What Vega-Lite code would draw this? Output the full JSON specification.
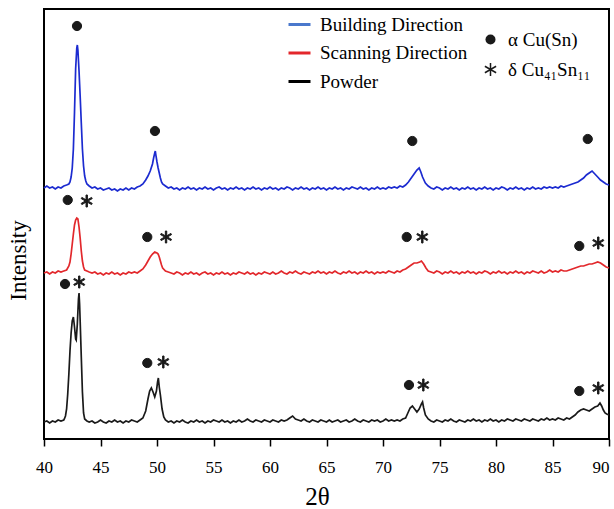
{
  "$schema": "https://vega.github.io/schema/vega-lite/v6.json",
  "width": 565,
  "height": 430,
  "autosize": {"type": "none"},
  "padding": {"left": 44, "top": 9, "right": 5, "bottom": 70},
  "background": "white",
  "config": {"view": {"stroke": "black", "strokeWidth": 2}, "font": "Liberation Serif"},
  "datasets": {
    "blue": [
      {"x":40,"y":251},{"x":40.25,"y":253},{"x":40.5,"y":251},{"x":40.75,"y":252},{"x":41,"y":250},{"x":41.25,"y":252},{"x":41.5,"y":251},{"x":41.75,"y":253},{"x":42,"y":254},{"x":42.2,"y":255},{"x":42.3,"y":257},{"x":42.4,"y":262},{"x":42.5,"y":271},{"x":42.6,"y":290},{"x":42.7,"y":327},{"x":42.8,"y":370},{"x":42.9,"y":391},{"x":42.95,"y":394},{"x":43,"y":389},{"x":43.1,"y":368},{"x":43.2,"y":343},{"x":43.3,"y":316},{"x":43.4,"y":290},{"x":43.5,"y":273},{"x":43.6,"y":263},{"x":43.7,"y":258},{"x":43.8,"y":255},{"x":44,"y":253},
      {"x":44.25,"y":251},{"x":44.5,"y":252},{"x":44.75,"y":250},{"x":45,"y":251},{"x":45.25,"y":249},{"x":45.5,"y":250},{"x":45.75,"y":251},{"x":46,"y":249},{"x":46.25,"y":250},{"x":46.5,"y":248},{"x":46.75,"y":250},{"x":47,"y":249},{"x":47.25,"y":251},{"x":47.5,"y":249},{"x":47.75,"y":251},{"x":48,"y":250},{"x":48.25,"y":252},{"x":48.5,"y":253},{"x":48.75,"y":255},{"x":49,"y":259},{"x":49.2,"y":263},{"x":49.4,"y":268},{"x":49.6,"y":275},{"x":49.7,"y":281},{"x":49.8,"y":286},{"x":49.85,"y":288},{"x":49.9,"y":284},{"x":50,"y":277},{"x":50.1,"y":271},{"x":50.2,"y":266},{"x":50.3,"y":261},{"x":50.4,"y":257},{"x":50.5,"y":255},{"x":50.75,"y":253},{"x":51,"y":251},
      {"x":51.25,"y":252},{"x":51.5,"y":250},{"x":51.75,"y":251},{"x":52,"y":249},{"x":52.25,"y":251},{"x":52.5,"y":250},{"x":52.75,"y":252},{"x":53,"y":250},{"x":53.25,"y":251},{"x":53.5,"y":249},{"x":53.75,"y":251},{"x":54,"y":250},{"x":54.25,"y":252},{"x":54.5,"y":250},{"x":54.75,"y":251},{"x":55,"y":249},{"x":55.25,"y":251},{"x":55.5,"y":252},{"x":55.75,"y":250},{"x":56,"y":251},{"x":56.25,"y":249},{"x":56.5,"y":251},{"x":56.75,"y":250},{"x":57,"y":252},{"x":57.25,"y":250},{"x":57.5,"y":251},{"x":57.75,"y":249},{"x":58,"y":251},{"x":58.25,"y":250},{"x":58.5,"y":252},{"x":58.75,"y":250},{"x":59,"y":251},{"x":59.25,"y":249},{"x":59.5,"y":251},{"x":59.75,"y":250},{"x":60,"y":252},{"x":60.25,"y":250},{"x":60.5,"y":251},{"x":60.75,"y":249},{"x":61,"y":251},{"x":61.25,"y":250},{"x":61.5,"y":252},{"x":61.75,"y":251},{"x":62,"y":249},{"x":62.25,"y":251},{"x":62.5,"y":250},{"x":62.75,"y":252},{"x":63,"y":250},{"x":63.25,"y":251},{"x":63.5,"y":249},{"x":63.75,"y":251},{"x":64,"y":250},{"x":64.25,"y":252},{"x":64.5,"y":250},{"x":64.75,"y":251},{"x":65,"y":249},{"x":65.25,"y":251},{"x":65.5,"y":250},{"x":65.75,"y":252},{"x":66,"y":250},{"x":66.25,"y":251},{"x":66.5,"y":249},{"x":66.75,"y":251},{"x":67,"y":250},{"x":67.25,"y":252},{"x":67.5,"y":251},{"x":67.75,"y":250},{"x":68,"y":252},{"x":68.25,"y":250},{"x":68.5,"y":251},{"x":68.75,"y":249},{"x":69,"y":251},{"x":69.25,"y":250},{"x":69.5,"y":252},{"x":69.75,"y":250},{"x":70,"y":251},{"x":70.25,"y":250},{"x":70.5,"y":252},{"x":70.75,"y":251},{"x":71,"y":252},{"x":71.25,"y":251},{"x":71.5,"y":253},{"x":71.75,"y":252},
      {"x":72,"y":254},{"x":72.25,"y":257},{"x":72.5,"y":261},{"x":72.75,"y":265},{"x":73,"y":269},{"x":73.2,"y":271},{"x":73.35,"y":267},{"x":73.5,"y":262},{"x":73.75,"y":256},{"x":74,"y":253},{"x":74.25,"y":251},
      {"x":74.5,"y":250},{"x":74.75,"y":252},{"x":75,"y":251},{"x":75.25,"y":249},{"x":75.5,"y":251},{"x":75.75,"y":250},{"x":76,"y":252},{"x":76.25,"y":250},{"x":76.5,"y":251},{"x":76.75,"y":249},{"x":77,"y":251},{"x":77.25,"y":250},{"x":77.5,"y":252},{"x":77.75,"y":250},{"x":78,"y":251},{"x":78.25,"y":249},{"x":78.5,"y":251},{"x":78.75,"y":250},{"x":79,"y":252},{"x":79.25,"y":250},{"x":79.5,"y":251},{"x":79.75,"y":249},{"x":80,"y":251},{"x":80.25,"y":250},{"x":80.5,"y":252},{"x":80.75,"y":251},{"x":81,"y":249},{"x":81.25,"y":251},{"x":81.5,"y":250},{"x":81.75,"y":252},{"x":82,"y":250},{"x":82.25,"y":251},{"x":82.5,"y":249},{"x":82.75,"y":251},{"x":83,"y":250},{"x":83.25,"y":252},{"x":83.5,"y":250},{"x":83.75,"y":251},{"x":84,"y":250},{"x":84.25,"y":252},{"x":84.5,"y":251},{"x":84.75,"y":252},{"x":85,"y":251},{"x":85.25,"y":252},{"x":85.5,"y":251},{"x":85.75,"y":253},{"x":86,"y":252},{"x":86.25,"y":253},{"x":86.5,"y":254},{"x":86.75,"y":255},
      {"x":87,"y":256},{"x":87.25,"y":257},{"x":87.5,"y":259},{"x":87.75,"y":261},{"x":88,"y":264},{"x":88.25,"y":266},{"x":88.5,"y":268},{"x":88.75,"y":265},{"x":89,"y":262},{"x":89.25,"y":259},{"x":89.5,"y":257},{"x":89.75,"y":255},{"x":90,"y":254}
    ],
    "red": [
      {"x":40,"y":166},{"x":40.25,"y":167},{"x":40.5,"y":165},{"x":40.75,"y":167},{"x":41,"y":166},{"x":41.25,"y":168},{"x":41.5,"y":167},{"x":41.75,"y":168},{"x":42,"y":169},{"x":42.2,"y":173},{"x":42.3,"y":177},{"x":42.4,"y":185},{"x":42.5,"y":195},{"x":42.6,"y":205},{"x":42.7,"y":214},{"x":42.8,"y":219},{"x":42.9,"y":221},{"x":43,"y":220},{"x":43.1,"y":212},{"x":43.2,"y":201},{"x":43.3,"y":188},{"x":43.4,"y":178},{"x":43.5,"y":172},{"x":43.6,"y":169},{"x":43.8,"y":168},{"x":44,"y":167},
      {"x":44.25,"y":166},{"x":44.5,"y":167},{"x":44.75,"y":165},{"x":45,"y":166},{"x":45.25,"y":164},{"x":45.5,"y":166},{"x":45.75,"y":165},{"x":46,"y":167},{"x":46.25,"y":165},{"x":46.5,"y":166},{"x":46.75,"y":164},{"x":47,"y":166},{"x":47.25,"y":165},{"x":47.5,"y":167},{"x":47.75,"y":166},{"x":48,"y":167},{"x":48.25,"y":166},{"x":48.5,"y":168},{"x":48.75,"y":170},
      {"x":49,"y":174},{"x":49.2,"y":178},{"x":49.4,"y":182},{"x":49.6,"y":185},{"x":49.8,"y":187},{"x":50,"y":186},{"x":50.1,"y":185},{"x":50.2,"y":182},{"x":50.3,"y":178},{"x":50.4,"y":174},{"x":50.5,"y":171},{"x":50.75,"y":168},{"x":51,"y":167},
      {"x":51.25,"y":166},{"x":51.5,"y":165},{"x":51.75,"y":167},{"x":52,"y":166},{"x":52.25,"y":164},{"x":52.5,"y":166},{"x":52.75,"y":165},{"x":53,"y":167},{"x":53.25,"y":165},{"x":53.5,"y":166},{"x":53.75,"y":164},{"x":54,"y":166},{"x":54.25,"y":167},{"x":54.5,"y":165},{"x":54.75,"y":166},{"x":55,"y":164},{"x":55.25,"y":166},{"x":55.5,"y":165},{"x":55.75,"y":167},{"x":56,"y":165},{"x":56.25,"y":166},{"x":56.5,"y":164},{"x":56.75,"y":166},{"x":57,"y":165},{"x":57.25,"y":167},{"x":57.5,"y":166},{"x":57.75,"y":165},{"x":58,"y":167},{"x":58.25,"y":165},{"x":58.5,"y":166},{"x":58.75,"y":164},{"x":59,"y":166},{"x":59.25,"y":165},{"x":59.5,"y":167},{"x":59.75,"y":166},{"x":60,"y":165},{"x":60.25,"y":167},{"x":60.5,"y":165},{"x":60.75,"y":166},{"x":61,"y":168},{"x":61.25,"y":166},{"x":61.5,"y":165},{"x":61.75,"y":167},{"x":62,"y":166},{"x":62.25,"y":168},{"x":62.5,"y":166},{"x":62.75,"y":165},{"x":63,"y":167},{"x":63.25,"y":166},{"x":63.5,"y":165},{"x":63.75,"y":167},{"x":64,"y":166},{"x":64.25,"y":168},{"x":64.5,"y":166},{"x":64.75,"y":167},{"x":65,"y":165},{"x":65.25,"y":167},{"x":65.5,"y":166},{"x":65.75,"y":168},{"x":66,"y":166},{"x":66.25,"y":165},{"x":66.5,"y":167},{"x":66.75,"y":166},{"x":67,"y":168},{"x":67.25,"y":166},{"x":67.5,"y":167},{"x":67.75,"y":165},{"x":68,"y":167},{"x":68.25,"y":166},{"x":68.5,"y":168},{"x":68.75,"y":166},{"x":69,"y":167},{"x":69.25,"y":165},{"x":69.5,"y":167},{"x":69.75,"y":166},{"x":70,"y":167},{"x":70.25,"y":166},{"x":70.5,"y":168},{"x":70.75,"y":167},{"x":71,"y":166},{"x":71.25,"y":168},{"x":71.5,"y":167},{"x":71.75,"y":169},
      {"x":72,"y":170},{"x":72.25,"y":172},{"x":72.5,"y":174},{"x":72.75,"y":176},{"x":73,"y":176},{"x":73.25,"y":177},{"x":73.4,"y":178},{"x":73.6,"y":175},{"x":73.8,"y":171},{"x":74,"y":168},{"x":74.25,"y":167},
      {"x":74.5,"y":166},{"x":74.75,"y":168},{"x":75,"y":167},{"x":75.25,"y":165},{"x":75.5,"y":167},{"x":75.75,"y":166},{"x":76,"y":168},{"x":76.25,"y":166},{"x":76.5,"y":167},{"x":76.75,"y":165},{"x":77,"y":167},{"x":77.25,"y":166},{"x":77.5,"y":168},{"x":77.75,"y":166},{"x":78,"y":167},{"x":78.25,"y":165},{"x":78.5,"y":167},{"x":78.75,"y":166},{"x":79,"y":168},{"x":79.25,"y":167},{"x":79.5,"y":165},{"x":79.75,"y":167},{"x":80,"y":166},{"x":80.25,"y":168},{"x":80.5,"y":166},{"x":80.75,"y":167},{"x":81,"y":165},{"x":81.25,"y":167},{"x":81.5,"y":166},{"x":81.75,"y":168},{"x":82,"y":166},{"x":82.25,"y":167},{"x":82.5,"y":165},{"x":82.75,"y":167},{"x":83,"y":166},{"x":83.25,"y":168},{"x":83.5,"y":167},{"x":83.75,"y":166},{"x":84,"y":168},{"x":84.25,"y":166},{"x":84.5,"y":167},{"x":84.75,"y":169},{"x":85,"y":167},{"x":85.25,"y":168},{"x":85.5,"y":167},{"x":85.75,"y":169},{"x":86,"y":168},
      {"x":86.25,"y":168},{"x":86.5,"y":169},{"x":86.75,"y":170},{"x":87,"y":171},{"x":87.25,"y":172},{"x":87.5,"y":173},{"x":87.75,"y":173},{"x":88,"y":174},{"x":88.25,"y":175},{"x":88.5,"y":175},{"x":88.75,"y":176},{"x":89,"y":177},{"x":89.25,"y":176},{"x":89.5,"y":174},{"x":89.75,"y":172},{"x":90,"y":171}
    ],
    "black": [
      {"x":40,"y":17},{"x":40.25,"y":18},{"x":40.5,"y":16},{"x":40.75,"y":18},{"x":41,"y":17},{"x":41.25,"y":19},{"x":41.5,"y":18},{"x":41.75,"y":19},{"x":41.8,"y":20},{"x":41.9,"y":23},{"x":42,"y":30},{"x":42.1,"y":45},{"x":42.2,"y":65},{"x":42.3,"y":88},{"x":42.4,"y":106},{"x":42.5,"y":118},{"x":42.6,"y":122},{"x":42.7,"y":112},{"x":42.8,"y":100},{"x":42.85,"y":99},{"x":42.95,"y":115},{"x":43.05,"y":140},{"x":43.1,"y":146},{"x":43.15,"y":135},{"x":43.2,"y":118},{"x":43.3,"y":82},{"x":43.4,"y":47},{"x":43.5,"y":26},{"x":43.6,"y":20},{"x":43.8,"y":18},{"x":44,"y":17},
      {"x":44.25,"y":18},{"x":44.5,"y":16},{"x":44.75,"y":17},{"x":45,"y":19},{"x":45.25,"y":17},{"x":45.5,"y":16},{"x":45.75,"y":18},{"x":46,"y":17},{"x":46.25,"y":19},{"x":46.5,"y":17},{"x":46.75,"y":18},{"x":47,"y":16},{"x":47.25,"y":18},{"x":47.5,"y":17},{"x":47.75,"y":19},{"x":48,"y":18},{"x":48.25,"y":17},{"x":48.5,"y":19},{"x":48.75,"y":21},
      {"x":49,"y":28},{"x":49.2,"y":40},{"x":49.35,"y":48},{"x":49.5,"y":51},{"x":49.65,"y":47},{"x":49.8,"y":42},{"x":49.95,"y":48},{"x":50.05,"y":57},{"x":50.12,"y":61},{"x":50.2,"y":52},{"x":50.3,"y":44},{"x":50.45,"y":30},{"x":50.6,"y":22},{"x":50.75,"y":19},{"x":51,"y":17},
      {"x":51.25,"y":18},{"x":51.5,"y":16},{"x":51.75,"y":18},{"x":52,"y":17},{"x":52.25,"y":19},{"x":52.5,"y":17},{"x":52.75,"y":16},{"x":53,"y":18},{"x":53.25,"y":17},{"x":53.5,"y":19},{"x":53.75,"y":17},{"x":54,"y":18},{"x":54.25,"y":16},{"x":54.5,"y":18},{"x":54.75,"y":17},{"x":55,"y":19},{"x":55.25,"y":18},{"x":55.5,"y":17},{"x":55.75,"y":19},{"x":56,"y":17},{"x":56.25,"y":18},{"x":56.5,"y":16},{"x":56.75,"y":18},{"x":57,"y":17},{"x":57.25,"y":19},{"x":57.5,"y":17},{"x":57.75,"y":18},{"x":58,"y":20},{"x":58.25,"y":18},{"x":58.5,"y":17},{"x":58.75,"y":19},{"x":59,"y":18},{"x":59.25,"y":17},{"x":59.5,"y":19},{"x":59.75,"y":18},{"x":60,"y":17},{"x":60.25,"y":19},{"x":60.5,"y":18},{"x":60.75,"y":17},{"x":61,"y":19},{"x":61.25,"y":18},{"x":61.5,"y":19},{"x":61.75,"y":21},{"x":62,"y":23},{"x":62.25,"y":20},{"x":62.5,"y":19},{"x":62.75,"y":18},{"x":63,"y":20},{"x":63.25,"y":18},{"x":63.5,"y":17},{"x":63.75,"y":19},{"x":64,"y":18},{"x":64.25,"y":17},{"x":64.5,"y":19},{"x":64.75,"y":18},{"x":65,"y":17},{"x":65.25,"y":19},{"x":65.5,"y":17},{"x":65.75,"y":18},{"x":66,"y":19},{"x":66.25,"y":17},{"x":66.5,"y":18},{"x":66.75,"y":19},{"x":67,"y":17},{"x":67.25,"y":18},{"x":67.5,"y":20},{"x":67.75,"y":18},{"x":68,"y":17},{"x":68.25,"y":19},{"x":68.5,"y":18},{"x":68.75,"y":17},{"x":69,"y":19},{"x":69.25,"y":18},{"x":69.5,"y":19},{"x":69.75,"y":17},{"x":70,"y":18},{"x":70.25,"y":20},{"x":70.5,"y":18},{"x":70.75,"y":19},{"x":71,"y":18},{"x":71.25,"y":19},{"x":71.5,"y":18},{"x":71.75,"y":20},
      {"x":72,"y":21},{"x":72.2,"y":26},{"x":72.4,"y":31},{"x":72.6,"y":33},{"x":72.8,"y":30},{"x":73,"y":27},{"x":73.2,"y":30},{"x":73.4,"y":35},{"x":73.5,"y":37},{"x":73.6,"y":31},{"x":73.75,"y":24},{"x":74,"y":20},{"x":74.25,"y":18},
      {"x":74.5,"y":17},{"x":74.75,"y":19},{"x":75,"y":18},{"x":75.25,"y":17},{"x":75.5,"y":19},{"x":75.75,"y":18},{"x":76,"y":20},{"x":76.25,"y":18},{"x":76.5,"y":17},{"x":76.75,"y":19},{"x":77,"y":18},{"x":77.25,"y":17},{"x":77.5,"y":19},{"x":77.75,"y":18},{"x":78,"y":20},{"x":78.25,"y":18},{"x":78.5,"y":19},{"x":78.75,"y":17},{"x":79,"y":19},{"x":79.25,"y":18},{"x":79.5,"y":20},{"x":79.75,"y":18},{"x":80,"y":19},{"x":80.25,"y":17},{"x":80.5,"y":19},{"x":80.75,"y":18},{"x":81,"y":20},{"x":81.25,"y":19},{"x":81.5,"y":18},{"x":81.75,"y":20},{"x":82,"y":19},{"x":82.25,"y":18},{"x":82.5,"y":20},{"x":82.75,"y":19},{"x":83,"y":18},{"x":83.25,"y":20},{"x":83.5,"y":19},{"x":83.75,"y":18},{"x":84,"y":20},{"x":84.25,"y":19},{"x":84.5,"y":21},{"x":84.75,"y":19},{"x":85,"y":20},{"x":85.25,"y":19},{"x":85.5,"y":21},{"x":85.75,"y":20},{"x":86,"y":19},{"x":86.25,"y":21},{"x":86.5,"y":20},{"x":86.75,"y":22},
      {"x":87,"y":24},{"x":87.25,"y":27},{"x":87.5,"y":29},{"x":87.75,"y":30},{"x":88,"y":29},{"x":88.25,"y":28},{"x":88.5,"y":30},{"x":88.75,"y":32},{"x":89,"y":33},{"x":89.2,"y":36},{"x":89.35,"y":33},{"x":89.5,"y":29},{"x":89.65,"y":26},{"x":89.8,"y":25},{"x":90,"y":24}
    ],
    "phases": [
      {"x":42.92,"y":413,"p":"α Cu(Sn)"},{"x":49.82,"y":308,"p":"α Cu(Sn)"},{"x":72.59,"y":298,"p":"α Cu(Sn)"},{"x":88.12,"y":300,"p":"α Cu(Sn)"},
      {"x":42.1,"y":239,"p":"α Cu(Sn)"},{"x":49.14,"y":202,"p":"α Cu(Sn)"},{"x":72.1,"y":202,"p":"α Cu(Sn)"},{"x":87.37,"y":193,"p":"α Cu(Sn)"},
      {"x":43.78,"y":238,"p":"δ Cu₄₁Sn₁₁"},{"x":50.8,"y":202,"p":"δ Cu₄₁Sn₁₁"},{"x":73.48,"y":202,"p":"δ Cu₄₁Sn₁₁"},{"x":89.05,"y":196,"p":"δ Cu₄₁Sn₁₁"},
      {"x":41.86,"y":155,"p":"α Cu(Sn)"},{"x":49.14,"y":76,"p":"α Cu(Sn)"},{"x":72.3,"y":54,"p":"α Cu(Sn)"},{"x":87.37,"y":48,"p":"α Cu(Sn)"},
      {"x":43.12,"y":157,"p":"δ Cu₄₁Sn₁₁"},{"x":50.56,"y":77,"p":"δ Cu₄₁Sn₁₁"},{"x":73.57,"y":54,"p":"δ Cu₄₁Sn₁₁"},{"x":89.05,"y":51,"p":"δ Cu₄₁Sn₁₁"}
    ]
  },
  "layer": [
    {
      "data": {"name": "blue"},
      "mark": {"type": "line", "color": "#1c2bd0", "strokeWidth": 1.7},
      "encoding": {
        "x": {"field": "x", "type": "quantitative", "scale": {"domain": [40, 90], "nice": false, "zero": false},
          "axis": {"orient": "bottom", "values": [40,42.5,45,47.5,50,52.5,55,57.5,60,62.5,65,67.5,70,72.5,75,77.5,80,82.5,85,87.5,90],
            "labelExpr": "datum.value % 5 === 0 ? datum.label : ''",
            "title": "2θ", "titleFont": "Liberation Serif", "titleFontSize": 25, "titleFontWeight": "normal", "titleColor": "black", "titleX": 273, "titleY": 65, "titleBaseline": "alphabetic",
            "labelFont": "Liberation Serif", "labelFontSize": 17, "labelColor": "black", "labelPadding": 13, "labelFlush": false, "labelOverlap": false,
            "labelAlign": {"condition": {"test": "datum.value >= 90", "value": "right"}, "value": "center"},
            "tickSize": {"condition": {"test": "datum.value % 5 === 0", "value": 7}, "value": 4},
            "tickWidth": 1.5, "tickColor": "black", "domain": false, "grid": false}},
        "y": {"field": "y", "type": "quantitative", "scale": {"domain": [0, 430], "nice": false, "zero": false},
          "axis": {"orient": "left", "title": "Intensity", "titleFont": "Liberation Serif", "titleFontSize": 23, "titleFontWeight": "normal", "titleColor": "black",
            "titleX": -19, "titleY": 251, "titleAngle": 270, "titleBaseline": "alphabetic", "titleAlign": "center",
            "labels": false, "ticks": false, "domain": true, "domainColor": "black", "domainWidth": 1, "grid": false}}
      }
    },
    {
      "data": {"name": "red"},
      "mark": {"type": "line", "color": "#e2282c", "strokeWidth": 1.7},
      "encoding": {
        "x": {"field": "x", "type": "quantitative"},
        "y": {"field": "y", "type": "quantitative"}
      }
    },
    {
      "data": {"name": "black"},
      "mark": {"type": "line", "color": "#1a1a1a", "strokeWidth": 1.7},
      "encoding": {
        "x": {"field": "x", "type": "quantitative"},
        "y": {"field": "y", "type": "quantitative"}
      }
    },
    {
      "data": {"name": "phases"},
      "mark": {"type": "point", "filled": true, "color": "#1a1a1a", "fill": "#1a1a1a", "stroke": "#1a1a1a", "strokeWidth": 1, "size": 85, "opacity": 1},
      "encoding": {
        "x": {"field": "x", "type": "quantitative"},
        "y": {"field": "y", "type": "quantitative"},
        "shape": {"field": "p", "type": "nominal",
          "scale": {"domain": ["α Cu(Sn)", "δ Cu₄₁Sn₁₁"], "range": ["circle", "M-0.15,-1.3L0.15,-1.3L0.15,1.3L-0.15,1.3ZM1.05,-0.78L1.2,-0.52L-1.05,0.78L-1.2,0.52ZM-1.2,-0.52L-1.05,-0.78L1.2,0.52L1.05,0.78Z"]},
          "legend": {"orient": "none", "legendX": 437, "legendY": 21, "title": null, "padding": 0, "rowPadding": 10,
            "labelFont": "Liberation Serif", "labelFontSize": 19, "labelColor": "black", "labelOffset": 8, "labelLimit": 300,
            "symbolSize": 100, "symbolFillColor": "#111111", "symbolStrokeColor": "#111111", "symbolStrokeWidth": 1,
            "encode": {"symbols": {"update": {"fill": {"value": "#111111"}, "stroke": {"value": "#111111"}, "strokeWidth": {"value": 1}, "opacity": {"value": 1}}}}}}
      }
    },
    {
      "data": {"values": []},
      "mark": {"type": "line"},
      "encoding": {
        "x": {"field": "x", "type": "quantitative"},
        "y": {"field": "y", "type": "quantitative"},
        "color": {"field": "s", "type": "nominal",
          "scale": {"domain": ["Building Direction", "Scanning Direction", "Powder"], "range": ["#4a78cc", "#e3262b", "#000000"]},
          "legend": {"orient": "none", "legendX": 243, "legendY": 3, "title": null, "padding": 0, "rowPadding": 5.5,
            "labelFont": "Liberation Serif", "labelFontSize": 19, "labelColor": "black", "labelOffset": 8, "labelLimit": 300,
            "symbolType": "stroke", "symbolSize": 484, "symbolStrokeWidth": 3}}
      }
    }
  ]
}
